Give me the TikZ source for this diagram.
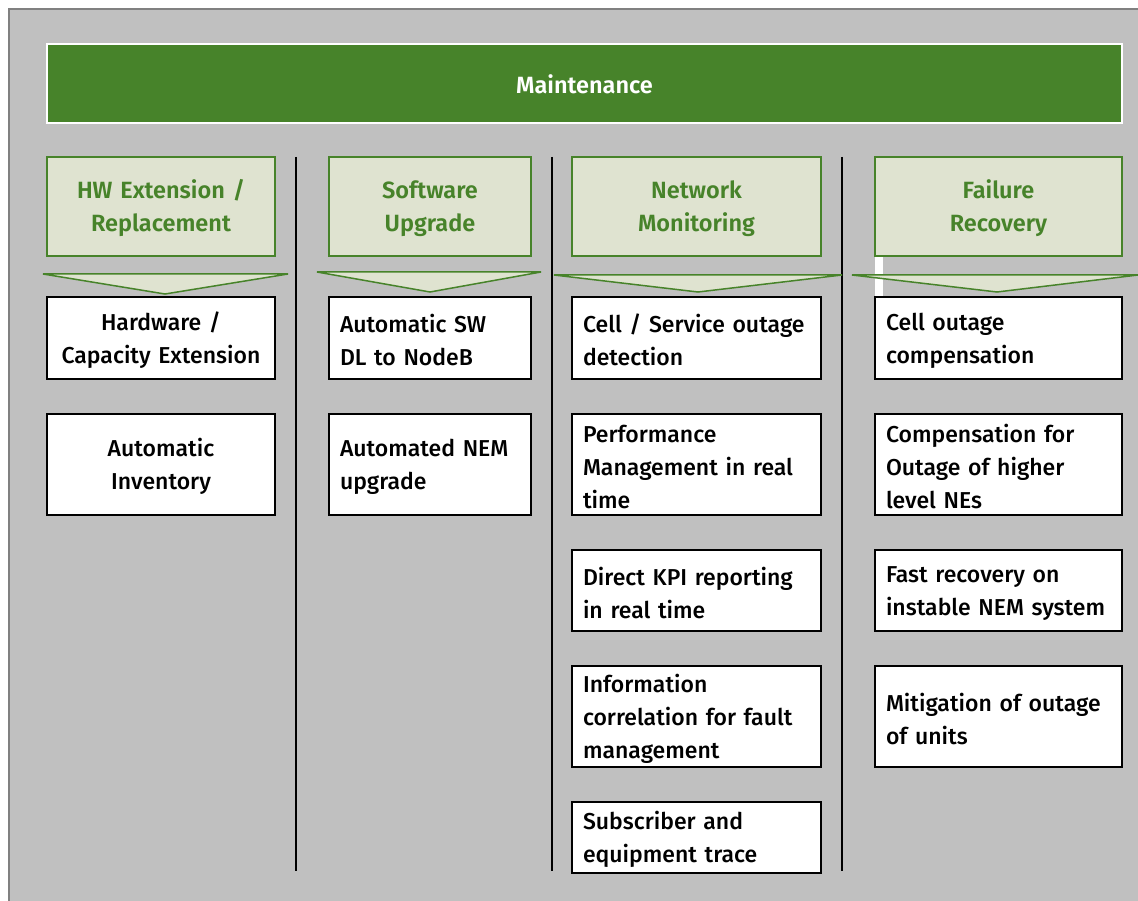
\documentclass[tikz,border=0pt]{standalone}
\usepackage{fontspec}
\setmainfont{Fira Sans}[UprightFont={* Medium}, BoldFont={* SemiBold}]
\definecolor{bggray}{HTML}{C0C0C0}
\definecolor{framegray}{HTML}{808080}
\definecolor{dkgreen}{HTML}{47832A}
\definecolor{ltgreen}{HTML}{DFE3D0}
\tikzset{
  lower3/.style={execute at begin node={\rule{0pt}{23pt}}},
  wbox/.style={draw=black, line width=1.5pt, fill=white, inner xsep=11pt, inner ysep=0pt,
    font=\fontsize{23}{33}\selectfont, text=black, lower3},
  hbox/.style={draw=dkgreen, line width=1.5pt, fill=ltgreen, inner sep=0pt, align=center,
    font=\bfseries\fontsize{23.5}{33}\selectfont, text=dkgreen, lower3},
  tri/.style={draw=dkgreen, line width=1.5pt, fill=ltgreen, line join=miter},
  sep/.style={draw=black, line width=2pt},
}
\begin{document}
\begin{tikzpicture}[x=1pt,y=-1pt]
\useasboundingbox (0,0) rectangle (1138,901);
\fill[white] (0,0) rectangle (1138,901);
\fill[bggray] (8,8) rectangle (1138,901);
\draw[framegray, line width=2pt] (9,901) -- (9,9) -- (1138,9);
% title bar
\node[draw=white, line width=2pt, fill=dkgreen, minimum width=1075pt, minimum height=79pt,
  text=white, font=\bfseries\fontsize{23.5}{33}\selectfont] (maint) at (584.5,84) {Maintenance};
% separators
\coordinate (s1t) at (296,157); \coordinate (s1b) at (296,871);
\coordinate (s2t) at (552,157); \coordinate (s2b) at (552,871);
\coordinate (s3t) at (842,157); \coordinate (s3b) at (842,871);
\draw[sep] (s1t) -- (s1b);
\draw[sep] (s2t) -- (s2b);
\draw[sep] (s3t) -- (s3b);
% white artifact stripe
\fill[white] (875,256) rectangle (883,297);
% headers
\node[hbox, minimum width=228pt, minimum height=99pt, text width=220pt] (h1) at (161,206.5) {HW Extension /\\Replacement};
\node[hbox, minimum width=202pt, minimum height=99pt, text width=194pt] (h2) at (430,206.5) {Software\\Upgrade};
\node[hbox, minimum width=249pt, minimum height=99pt, text width=241pt] (h3) at (696.5,206.5) {Network\\Monitoring};
\node[hbox, minimum width=247pt, minimum height=99pt, text width=239pt] (h4) at (998.5,206.5) {Failure\\Recovery};
% triangles
\draw[tri] (43,274) -- (288,274) -- (165,294) -- cycle;
\draw[tri] (317,272) -- (541,272) -- (430,292) -- cycle;
\draw[tri] (554,275) -- (842,275) -- (698,292) -- cycle;
\draw[tri] (852,275) -- (1138,275) -- (997,292) -- cycle;
% column 1
\node[wbox, align=center, minimum width=228pt, minimum height=82pt, text width=206pt] (b11) at (161,338) {Hardware /\\Capacity Extension};
\node[wbox, align=center, minimum width=228pt, minimum height=101pt, text width=206pt] (b12) at (161,464.5) {Automatic\\Inventory};
% column 2
\node[wbox, align=left, minimum width=202pt, minimum height=82pt, text width=180pt] (b21) at (430,338) {Automatic SW\\DL to NodeB};
\node[wbox, align=left, minimum width=202pt, minimum height=101pt, text width=180pt] (b22) at (430,464.5) {Automated NEM\\upgrade};
% column 3
\node[wbox, align=left, minimum width=249pt, minimum height=82pt, text width=227pt] (b31) at (696.5,338) {Cell / Service outage\\detection};
\node[wbox, align=left, minimum width=249pt, minimum height=101pt, text width=227pt] (b32) at (696.5,464.5) {Performance\\Management in real\\time};
\node[wbox, align=left, minimum width=249pt, minimum height=81pt, text width=227pt] (b33) at (696.5,590.5) {Direct KPI reporting\\in real time};
\node[wbox, align=left, minimum width=249pt, minimum height=101pt, text width=227pt] (b34) at (696.5,716.5) {Information\\correlation for fault\\management};
\node[wbox, align=left, minimum width=249pt, minimum height=71pt, text width=227pt] (b35) at (696.5,837.5) {Subscriber and\\equipment trace};
% column 4
\node[wbox, align=left, minimum width=247pt, minimum height=82pt, text width=225pt] (b41) at (998.5,338) {Cell outage\\compensation};
\node[wbox, align=left, minimum width=247pt, minimum height=101pt, text width=225pt] (b42) at (998.5,464.5) {Compensation for\\Outage of higher\\level NEs};
\node[wbox, align=left, minimum width=247pt, minimum height=81pt, text width=225pt] (b43) at (998.5,590.5) {Fast recovery on\\instable NEM system};
\node[wbox, align=left, minimum width=247pt, minimum height=101pt, text width=225pt] (b44) at (998.5,716.5) {Mitigation of outage\\of units};
\end{tikzpicture}
\end{document}
